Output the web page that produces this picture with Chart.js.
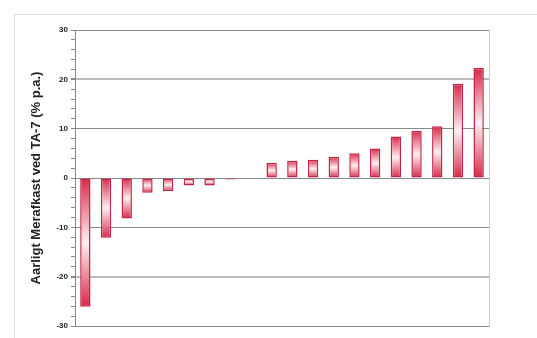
<!DOCTYPE html>
<html>
<head>
<meta charset="utf-8">
<script src="https://cdn.jsdelivr.net/npm/chart.js@4"></script>
<style>
  html, body { margin: 0; padding: 0; background: #fff; }
  #frame { position: absolute; left: 14px; top: 14px; width: 600px; height: 400px; border: 1px solid #ddd; }
  #wrap { position: absolute; left: 0; top: 0; width: 537px; height: 338px; }
</style>
</head>
<body>
<div id="frame"></div>
<div id="wrap"><canvas id="chart"></canvas></div>
<script>
// categories (unlabelled in the original) and yearly excess return values
const categories = ['1', '2', '3', '4', '5', '6', '7', '8', '9', '10',
                    '11', '12', '13', '14', '15', '16', '17', '18', '19', '20'];
const merafkast = [-26.1, -12.1, -8.2, -3.0, -2.7, -1.5, -1.5, -0.3, 0, 3.1,
                   3.5, 3.7, 4.3, 5.0, 6.0, 8.4, 9.6, 10.5, 19.1, 22.3];
const yTicks = [-30, -20, -10, 0, 10, 20, 30];

const barRed = '#d8284a';
const barLight = '#fdf0f2';

// fade from red at both ends of each bar to a pale centre
function barFill(ctx) {
    const chart = ctx.chart;
    const y = chart.scales.y;
    if (!chart.chartArea || !y) return barRed;
    const v = ctx.raw;
    const y0 = y.getPixelForValue(0);
    const y1 = y.getPixelForValue(v);
    if (Math.abs(y1 - y0) < 1) return barRed;
    const g = chart.ctx.createLinearGradient(0, y0, 0, y1);
    g.addColorStop(0, barRed);
    g.addColorStop(0.5, barLight);
    g.addColorStop(1, barRed);
    return g;
}

new Chart(document.getElementById('chart'), {
    type: 'bar',
    data: {
        labels: categories,
        datasets: [{
            label: 'Merafkast',
            data: merafkast,
            backgroundColor: barFill,
            borderColor: '#c02848',
            borderWidth: 1.5,
            borderSkipped: false,
            barPercentage: 0.5,
            categoryPercentage: 1
        }]
    },
    options: {
        responsive: true,
        maintainAspectRatio: false,
        animation: false,
        layout: { padding: { left: 25, right: 48, top: 30, bottom: 12 } },
        plugins: {
            legend: { display: false },
            tooltip: { enabled: false }
        },
        scales: {
            x: { display: false },
            y: {
                min: -30,
                max: 30,
                afterFit: s => { s.width = 50; },
                ticks: {
                    stepSize: 2,
                    autoSkip: false,
                    padding: 3,
                    color: '#222',
                    font: { family: 'Liberation Sans', size: 8, weight: 'bold' },
                    callback: v => yTicks.includes(v) ? v : ''
                },
                grid: {
                    color: c => yTicks.includes(c.tick.value) ? (Math.abs(c.tick.value) === 20 ? '#bbb' : '#888') : 'rgba(0,0,0,0)',
                    lineWidth: c => Math.abs(c.tick.value) === 20 ? 2 : 1,
                    tickColor: '#888',
                    tickLength: 4
                },
                border: { color: '#888' },
                title: {
                    display: true,
                    text: 'Aarligt Merafkast ved TA-7 (% p.a.)',
                    color: '#222',
                    padding: { top: 4, bottom: 2 },
                    font: { family: 'Liberation Sans', size: 13, weight: 'bold' }
                }
            },
            yRight: {
                position: 'right',
                min: -30,
                max: 30,
                ticks: { display: false },
                grid: { drawOnChartArea: false, drawTicks: false },
                border: { color: '#ccc' }
            }
        }
    }
});
</script>
</body>
</html>
